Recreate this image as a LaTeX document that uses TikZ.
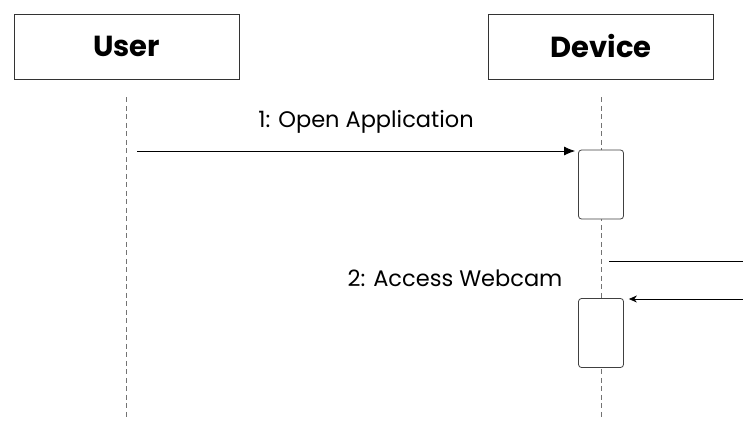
\documentclass[tikz,border=0pt]{standalone}
\usepackage{fontspec}
\setmainfont{Poppins}
\usepackage{tikz}
\usetikzlibrary{arrows.meta, positioning}
\tikzset{
    actor/.style={rectangle, draw=black!80, line width=0.8pt, minimum width=225pt, minimum height=65pt, text centered, font=\fontsize{29}{32}\selectfont\bfseries},
    activation/.style={rectangle, rounded corners=3pt, draw=black!75, line width=0.8pt, fill=white, minimum width=45pt, minimum height=69pt},
    lifeline/.style={draw=black!55, dash pattern=on 5pt off 3.5pt, line width=0.7pt},
    msg/.style={line width=0.8pt, -{Latex[length=11pt,width=9pt]}},
    reply/.style={line width=0.8pt, -{Stealth[length=8pt,width=7pt]}},
    msglabel/.style={font=\fontsize{22.5}{26}\selectfont, inner sep=0pt, anchor=base}
}
\begin{document}
\begin{tikzpicture}[x=1pt, y=-1pt]
        \useasboundingbox (0,0) rectangle (743,420);
        % Actors
        \node[actor] (user) at (126.5,46.5) {User};
        \node[actor, right=249pt of user] (device) {Device};

        % Lifelines
        \coordinate (userTop) at ([yshift=-18pt]user.south);
        \coordinate (userEnd) at (user.south |- 0,420);
        \coordinate (deviceTop) at ([yshift=-18pt]device.south);
        \coordinate (deviceEnd) at (device.south |- 0,420);
        \draw[lifeline] (userTop) -- (userEnd);
        \draw[lifeline] (deviceTop) -- (deviceEnd);

        % Activations
        \node[activation] (act1) at (601,184.5) {};
        \node[activation] (act2) at (601,333) {};

        % Messages
        \coordinate (m1start) at (137,151);
        \draw[msg, shorten >=3pt] (m1start) -- (m1start -| act1.west);
        \node[msglabel] (lbl1) at (366,127) {1: Open Application};

        \coordinate (m2out) at (609,261);
        \coordinate (m2edge) at (743,261);
        \coordinate (m2back) at (743,299);
        \draw[line width=0.8pt] (m2out) -- (m2edge);
        \draw[reply, shorten >=5pt] (m2back) -- (m2back -| act2.east);
        \node[msglabel] (lbl2) at (455,286) {2: Access Webcam};
    \end{tikzpicture}
\end{document}
